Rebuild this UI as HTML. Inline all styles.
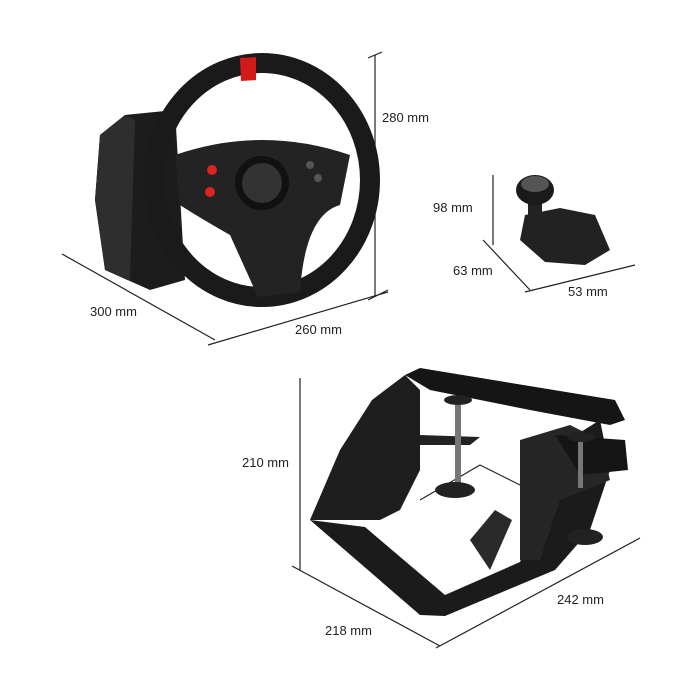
<!DOCTYPE html><html><head><style>body{margin:0;background:#fff}svg{display:block}text{font-family:"Liberation Sans",sans-serif;font-size:13px;fill:#222}</style></head><body>
<svg width="700" height="700" viewBox="0 0 700 700">
<g stroke="#222" stroke-width="1.2" fill="none">
<line x1="375" y1="55" x2="375" y2="297"/><line x1="368" y1="58" x2="382" y2="52"/><line x1="368" y1="300" x2="388" y2="290"/>
<line x1="62" y1="254" x2="215" y2="340"/><line x1="208" y1="345" x2="388" y2="292"/>
<line x1="493" y1="175" x2="493" y2="245"/><line x1="483" y1="240" x2="530" y2="290"/><line x1="525" y1="292" x2="635" y2="265"/>
<line x1="300" y1="378" x2="300" y2="570"/><line x1="292" y1="566" x2="440" y2="646"/><line x1="436" y1="648" x2="640" y2="538"/>
<line x1="420" y1="500" x2="480" y2="465"/><line x1="480" y1="465" x2="530" y2="490"/>
</g>
<text x="382" y="122">280 mm</text><text x="90" y="316">300 mm</text><text x="295" y="334">260 mm</text>
<text x="433" y="212">98 mm</text><text x="453" y="275">63 mm</text><text x="568" y="296">53 mm</text>
<text x="242" y="467">210 mm</text><text x="325" y="635">218 mm</text><text x="557" y="604">242 mm</text>
<path d="M100,135 L125,115 L175,110 L185,280 L150,290 L105,270 L95,200 Z" fill="#1c1c1c"/>
<path d="M100,135 L125,115 L135,120 L130,280 L105,270 L95,200 Z" fill="#2e2e2e"/>
<ellipse cx="262" cy="180" rx="108" ry="117" fill="none" stroke="#1a1a1a" stroke-width="20"/>
<path d="M240,58 L256,57 L256,80 L241,81 Z" fill="#d21a1a"/>
<path d="M175,155 Q262,125 350,155 L340,205 Q305,215 300,292 L258,297 L230,235 Q195,215 180,205 Z" fill="#232323"/>
<circle cx="262" cy="183" r="27" fill="#111"/>
<circle cx="262" cy="183" r="20" fill="#333"/>
<circle cx="212" cy="170" r="5" fill="#d22"/><circle cx="210" cy="192" r="5" fill="#d22"/>
<circle cx="310" cy="165" r="4" fill="#555"/><circle cx="318" cy="178" r="4" fill="#555"/>
<path d="M525,215 L560,208 L595,215 L610,250 L585,265 L545,262 L520,240 Z" fill="#222"/>
<rect x="528" y="200" width="14" height="40" fill="#222"/>
<ellipse cx="535" cy="190" rx="19" ry="15" fill="#1a1a1a"/><ellipse cx="535" cy="184" rx="14" ry="8" fill="#555"/>
<path d="M310,520 L340,450 L372,400 L405,375 L420,390 L420,470 L400,510 L380,520 Z" fill="#1e1e1e"/>
<path d="M405,375 L420,368 L615,400 L625,420 L610,425 L530,410 L430,390 Z" fill="#151515"/>
<path d="M310,520 L365,527 L445,595 L520,562 L545,500 L560,445 L600,420 L610,470 L590,530 L555,570 L445,616 L420,615 Z" fill="#1b1b1b"/>
<path d="M520,440 L570,425 L600,440 L610,480 L560,500 L540,560 L520,560 Z" fill="#262626"/>
<path d="M555,435 L625,440 L628,470 L580,475 Z" fill="#151515"/>
<path d="M420,435 L480,437 L470,445 L420,445 Z" fill="#222"/>
<rect x="455" y="405" width="6" height="80" fill="#777"/><ellipse cx="458" cy="400" rx="14" ry="5" fill="#222"/>
<ellipse cx="455" cy="490" rx="20" ry="8" fill="#222"/>
<rect x="578" y="438" width="5" height="50" fill="#777"/><ellipse cx="581" cy="437" rx="14" ry="5" fill="#222"/>
<ellipse cx="585" cy="537" rx="18" ry="8" fill="#222"/>
<path d="M470,540 L495,510 L512,520 L490,570 Z" fill="#2a2a2a"/>
</svg></body></html>
